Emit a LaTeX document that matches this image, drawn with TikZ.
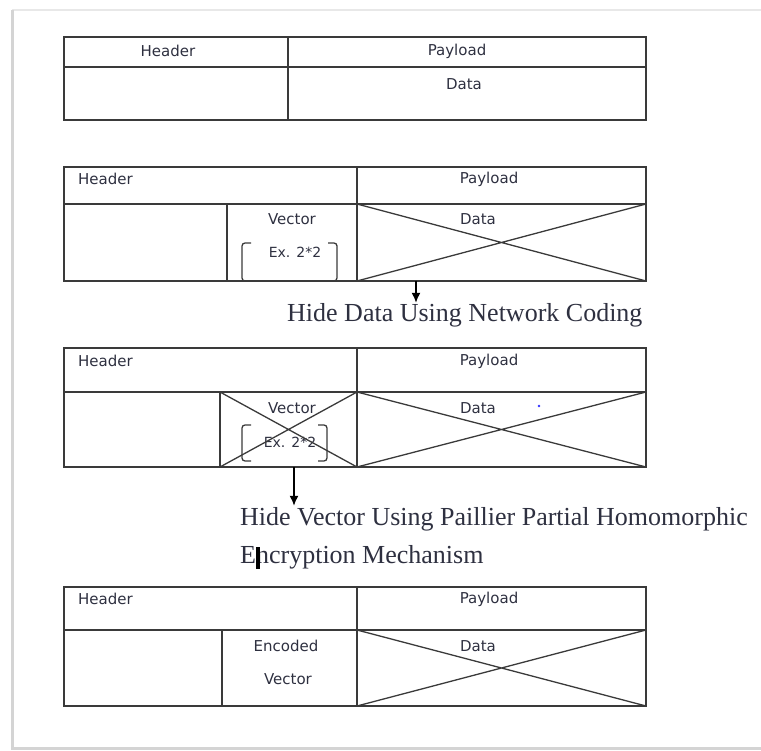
\documentclass[tikz,border=0pt]{standalone}
\usepackage{fontspec}
\setmainfont{Liberation Serif}
\newfontfamily\boxfont{DejaVu Sans}
\usetikzlibrary{arrows.meta}
\definecolor{linegray}{HTML}{3A3A3A}
\definecolor{labelink}{HTML}{2E3040}
\definecolor{pageedge}{HTML}{D4D4D4}
\definecolor{pagetop}{HTML}{E8E8E8}
% one drawn cell of a packet layout: name, x1, y1, x2, y2
\newcommand\packetcell[5]{%
  \node[cell, minimum width={#4-#2}, minimum height={#5-#3}] (#1) at (#2,#3) {};}
\begin{document}
\begin{tikzpicture}[x=1pt,y=-1pt,
  cell/.style={draw=linegray, line width=1.6pt, anchor=north west, inner sep=0pt, outer sep=0pt},
  lbl/.style={font=\boxfont\fontsize{15}{17}\selectfont, text=labelink, inner sep=0pt},
  small lbl/.style={lbl, font=\boxfont\fontsize{14}{16}\selectfont},
  caption/.style={font=\fontsize{26}{29}\selectfont, text=labelink, anchor=base west, inner sep=0pt},
  cross/.style={draw=linegray, line width=1.3pt},
  brk/.style={draw=linegray, line width=1.3pt, rounded corners=3pt},
  arr/.style={draw=black, line width=1.4pt, shorten >=1pt, -{Latex[length=10pt,width=9pt]}},
]
\useasboundingbox (0,0) rectangle (761,751);
% page outline
\draw[pagetop, line width=2.5pt] (12,10) -- (761,10);
\draw[pageedge, line width=3pt] (12,10) -- (12,748) -- (761,748);

% ---- packet 1: plain header / payload
\packetcell{ha1}{64}{37}{288}{67}
\packetcell{pa1}{288}{37}{646}{67}
\packetcell{hb1}{64}{67}{288}{120}
\packetcell{pb1}{288}{67}{646}{120}
\node[lbl] (t-h1) at (168,51) {Header};
\node[lbl] (t-p1) at (457,51) {Payload};
\node[lbl] (t-d1) at (464,84) {Data};

% ---- packet 2: data hidden by network coding
\packetcell{ha2}{64}{167}{357}{204}
\packetcell{pa2}{357}{167}{646}{204}
\packetcell{hl2}{64}{204}{227}{281}
\packetcell{vc2}{227}{204}{357}{281}
\packetcell{dt2}{357}{204}{646}{281}
\draw[cross] (dt2.north west) -- (dt2.south east) (dt2.south west) -- (dt2.north east);
\node[lbl, anchor=west] (t-h2) at (78,179) {Header};
\node[lbl] (t-p2) at (489,179) {Payload};
\node[lbl] (t-v2) at (292,219) {Vector};
\node[small lbl] (t-e2) at (295,252) {Ex. 2*2};
\node[lbl] (t-d2) at (478,219) {Data};
\draw[brk] (251,243) -- (242,243) -- (242,281) -- (251,281);
\draw[brk] (328,243) -- (337,243) -- (337,281) -- (328,281);

\node[caption] (cap1) at (287,322) {Hide Data Using Network Coding};
\coordinate (ar1) at (416,281);
\draw[arr] (ar1) -- (ar1 |- cap1.north);

% ---- packet 3: vector and data both hidden
\packetcell{ha3}{64}{348}{357}{392}
\packetcell{pa3}{357}{348}{646}{392}
\packetcell{hl3}{64}{392}{220}{467}
\packetcell{vc3}{220}{392}{357}{467}
\packetcell{dt3}{357}{392}{646}{467}
\node[lbl, anchor=west] (t-h3) at (78,361) {Header};
\node[lbl] (t-p3) at (489,361) {Payload};
\node[lbl] (t-v3) at (292,408) {Vector};
\node[small lbl] (t-e3) at (290,442) {Ex. 2*2};
\node[lbl] (t-d3) at (478,408) {Data};
\draw[brk] (251,425) -- (242,425) -- (242,461) -- (251,461);
\draw[brk] (318,425) -- (327,425) -- (327,461) -- (318,461);
\draw[cross] (vc3.north west) -- (vc3.south east) (vc3.south west) -- (vc3.north east);
\draw[cross] (dt3.north west) -- (dt3.south east) (dt3.south west) -- (dt3.north east);
\fill[blue!80] (539,406) circle (1.3);

\node[caption] (cap2) at (240,525) {Hide Vector Using Paillier Partial Homomorphic};
\node[caption] (cap3) at (240,563) {Encryption Mechanism};
\fill[black] (256,547) rectangle (259.5,569);
\coordinate (ar2) at (294,467);
\draw[arr] (ar2) -- (ar2 |- cap2.north);

% ---- packet 4: encoded vector
\packetcell{ha4}{64}{587}{357}{630}
\packetcell{pa4}{357}{587}{646}{630}
\packetcell{hl4}{64}{630}{222}{706}
\packetcell{vc4}{222}{630}{357}{706}
\packetcell{dt4}{357}{630}{646}{706}
\draw[cross] (dt4.north west) -- (dt4.south east) (dt4.south west) -- (dt4.north east);
\node[lbl, anchor=west] (t-h4) at (78,599) {Header};
\node[lbl] (t-p4) at (489,599) {Payload};
\node[lbl] (t-v4a) at (286,646) {Encoded};
\node[lbl] (t-v4b) at (288,679) {Vector};
\node[lbl] (t-d4) at (478,646) {Data};
\end{tikzpicture}
\end{document}
